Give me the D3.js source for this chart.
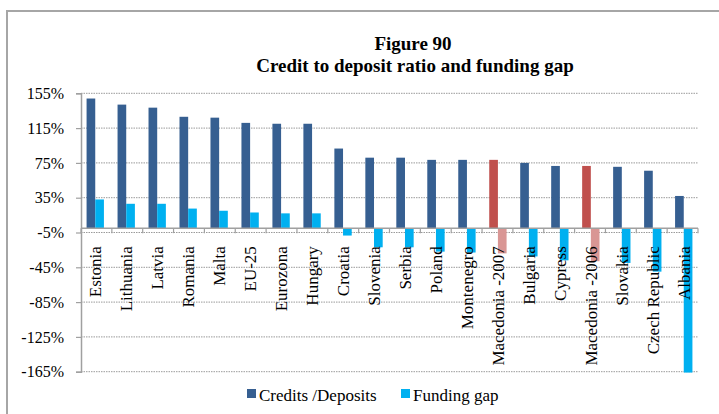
<!DOCTYPE html>
<html>
<head>
<meta charset="utf-8">
<script src="https://cdn.jsdelivr.net/npm/d3@7"></script>
<style>
  body { margin: 0; background: #fff; }
  text { font-family: "Liberation Serif", "Times New Roman", serif; fill: #000; }
</style>
</head>
<body>
<div id="chart"></div>
<script>
// values (in %)
const countries = ['Estonia', 'Lithuania', 'Latvia', 'Romania', 'Malta', 'EU-25', 'Eurozona', 'Hungary', 'Croatia',
  'Slovenia', 'Serbia', 'Poland', 'Montenegro', 'Macedonia -2007', 'Bulgaria', 'Cypress', 'Macedonia -2006',
  'Slovakia', 'Czech Republic', 'Albania'];
const creditsDeposits = [149, 142, 138.5, 128, 127, 121, 120, 120, 91.5,
  81, 81, 78.5, 78.5, 78.5, 75, 71.5, 71.5, 70.5, 66, 37];
const fundingGap = [33, 28, 28, 22.5, 20, 18, 17, 17, -8.5,
  -22, -22, -27, -28, -29, -32.5, -37, -38, -40, -50, -166];
const highlighted = ['Macedonia -2007', 'Macedonia -2006'];
const yTicks = [-165, -125, -85, -45, -5, 35, 75, 115, 155];
const seriesNames = ['Credits /Deposits', 'Funding gap'];

const width = 719;
const height = 414;
const margin = { top: 93.3, right: 21, bottom: 42.3, left: 81 };
const innerWidth = width - margin.left - margin.right;
const innerHeight = height - margin.top - margin.bottom;

const colors = {
  'Credits /Deposits': '#365f91',
  'Funding gap': '#00b0f0',
};
const hlColors = {
  'Credits /Deposits': '#c0504d',
  'Funding gap': '#d99694',
};

const svg = d3
  .select('#chart')
  .append('svg')
  .attr('width', width)
  .attr('height', height);

// outer frame (cut off on the right and bottom)
svg
  .append('rect')
  .attr('x', 7)
  .attr('y', 11)
  .attr('width', 760)
  .attr('height', 460)
  .attr('fill', 'none')
  .attr('stroke', '#a6a6a6')
  .attr('stroke-width', 2);

svg
  .append('text')
  .attr('x', 413)
  .attr('y', 50)
  .attr('text-anchor', 'middle')
  .style('font-size', '19px')
  .style('font-weight', 'bold')
  .text('Figure 90');

svg
  .append('text')
  .attr('x', 415)
  .attr('y', 72)
  .attr('text-anchor', 'middle')
  .style('font-size', '19px')
  .style('font-weight', 'bold')
  .text('Credit to deposit ratio and funding gap');

const g = svg
  .append('g')
  .attr('transform', `translate(${margin.left},${margin.top})`);

const y = d3.scaleLinear().domain([-165, 155]).range([innerHeight, 0]);
const x = d3
  .scaleBand()
  .domain(countries)
  .range([0, innerWidth])
  .paddingInner(0.44)
  .paddingOuter(0.18);
const x1 = d3
  .scaleBand()
  .domain(seriesNames)
  .range([0, x.bandwidth()]);

// gridlines
g.selectAll('.grid')
  .data(yTicks)
  .enter()
  .append('line')
  .attr('x1', 0)
  .attr('x2', innerWidth)
  .attr('y1', (d) => y(d))
  .attr('y2', (d) => y(d))
  .attr('stroke', '#9a9a9a')
  .attr('stroke-width', 1)
  .attr('stroke-dasharray', '1.5,1');

// y axis
const yAxis = g.append('g').call(
  d3.axisLeft(y).tickValues(yTicks).tickSize(5).tickFormat((d) => d + '%')
);
yAxis.select('.domain').attr('stroke', '#a0a0a0').attr('stroke-width', 1.5);
yAxis.selectAll('.tick line').attr('stroke', '#a0a0a0').attr('stroke-width', 1.2);
yAxis
  .selectAll('.tick text')
  .attr('x', -17)
  .style('font-size', '16px')
  .style('font-family', '"Liberation Serif", "Times New Roman", serif')
  .attr('fill', '#000');

// bars
const rows = countries.map((c, i) => ({
  country: c,
  values: [
    { key: seriesNames[0], value: creditsDeposits[i] },
    { key: seriesNames[1], value: fundingGap[i] },
  ],
}));

const groups = g
  .selectAll('.bar-group')
  .data(rows)
  .enter()
  .append('g')
  .attr('transform', (d) => `translate(${x(d.country)},0)`);

groups
  .selectAll('rect')
  .data((d) => d.values.map((v) => ({ ...v, country: d.country })))
  .enter()
  .append('rect')
  .attr('x', (d) => x1(d.key))
  .attr('width', x1.bandwidth())
  .attr('y', (d) => y(Math.max(0, d.value)))
  .attr('height', (d) => Math.abs(y(d.value) - y(0)))
  .attr('fill', (d) =>
    highlighted.includes(d.country) ? hlColors[d.key] : colors[d.key]
  );

// category axis at 0
const step = x.step();
const boundaries = d3.range(countries.length + 1).map(
  (i) => x.range()[0] + i * (innerWidth / countries.length)
);
g.selectAll('.ctick')
  .data(boundaries)
  .enter()
  .append('line')
  .attr('x1', (d) => d)
  .attr('x2', (d) => d)
  .attr('y1', y(0))
  .attr('y2', y(0) + 5)
  .attr('stroke', '#a0a0a0')
  .attr('stroke-width', 1.2);

g.append('line')
  .attr('x1', 0)
  .attr('x2', innerWidth)
  .attr('y1', y(0))
  .attr('y2', y(0))
  .attr('stroke', '#a0a0a0')
  .attr('stroke-width', 1.5);

// category labels
g.selectAll('.clabel')
  .data(countries)
  .enter()
  .append('text')
  .attr(
    'transform',
    (d) => `translate(${x(d) + x.bandwidth() / 2},${y(0) + 18}) rotate(-90)`
  )
  .attr('dy', '0.35em')
  .attr('text-anchor', 'end')
  .style('font-size', '17px')
  .text((d) => d);

// legend
const legendData = [
  { label: seriesNames[0], x: 247 },
  { label: seriesNames[1], x: 401 },
];
const legend = svg
  .selectAll('.legend-item')
  .data(legendData)
  .enter()
  .append('g')
  .attr('transform', (d) => `translate(${d.x},389)`);

legend
  .append('rect')
  .attr('width', 9)
  .attr('height', 9)
  .attr('fill', (d) => colors[d.label]);

legend
  .append('text')
  .attr('x', 12)
  .attr('y', 12)
  .style('font-size', '17px')
  .text((d) => d.label);
</script>
</body>
</html>
